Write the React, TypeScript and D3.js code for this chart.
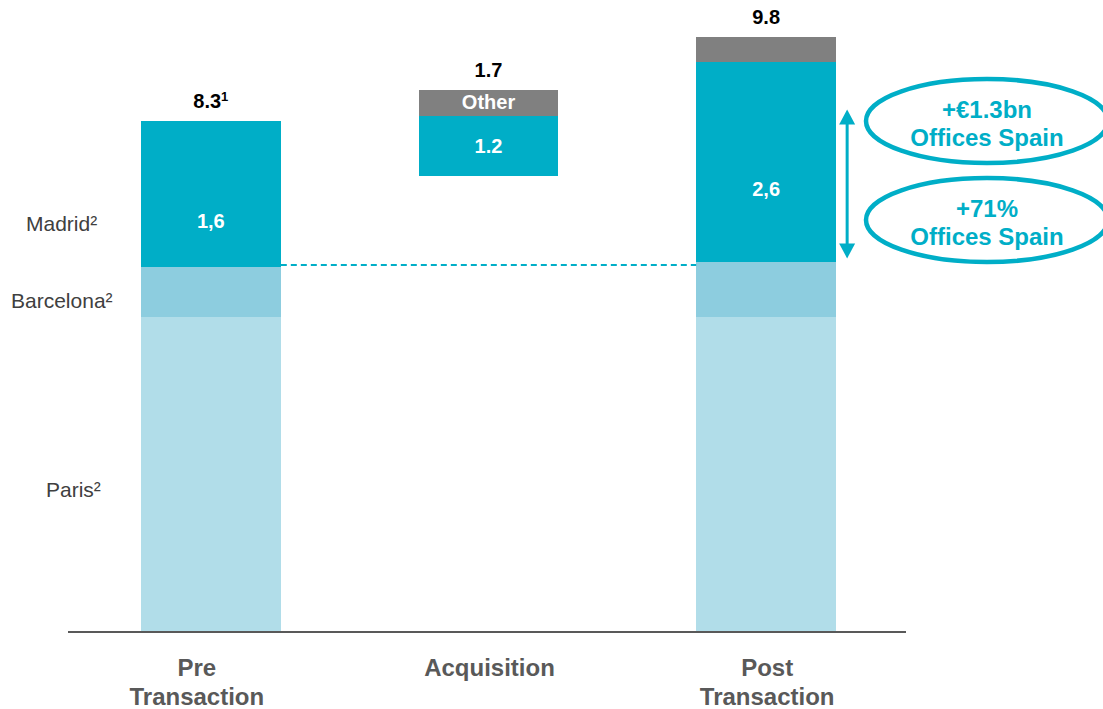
import React from "react";
import * as d3 from "d3";

// ---- data ----
const categories = ["Pre Transaction", "Acquisition", "Post Transaction"];
const categoryLines = [["Pre", "Transaction"], ["Acquisition"], ["Post", "Transaction"]];
const segmentKeys = ["base", "Paris", "Barcelona", "Madrid", "Spain other", "Other"];
// values per category (€bn); "base" is the invisible floor of the bridge bar
const baseValues = [0, 7.39, 0];
const parisValues = [5.1, 0, 5.1];
const barcelonaValues = [0.81, 0, 0.89];
const madridValues = [1.49, 0.97, 2.38];
const spainOtherValues = [0.89, 0, 0.875];
const otherValues = [0, 0.42, 0.4];
const totalLabels = ["8.3", "1.7", "9.8"];
const totalSup = ["1", "", ""];
const madridLabels = ["1,6", "1.2", "2,6"];
const otherLabels = ["", "Other", ""];
const rowLabels = ["Madrid²", "Barcelona²", "Paris²"];
const calloutTop = ["+€1.3bn", "Offices Spain"];
const calloutBottom = ["+71%", "Offices Spain"];

const COLORS: Record<string, string> = {
  base: "none",
  Paris: "#B1DDE9",
  Barcelona: "#8DCDDF",
  Madrid: "#00AEC7",
  "Spain other": "#00AEC7",
  Other: "#808080",
};
const TEAL = "#00AEC7";
const FONT = "'Liberation Sans', Arial, sans-serif";

export default function App() {
  const W = 1103;
  const H = 709;
  const baseY = 632;

  const rows = categories.map((c, i) => ({
    cat: c,
    base: baseValues[i],
    Paris: parisValues[i],
    Barcelona: barcelonaValues[i],
    Madrid: madridValues[i],
    "Spain other": spainOtherValues[i],
    Other: otherValues[i],
  }));
  const stacked = d3.stack<any>().keys(segmentKeys)(rows as any);

  const x = d3
    .scaleBand<string>()
    .domain(categories)
    .range([72, 905])
    .paddingInner(0.496)
    .paddingOuter(0.248);
  const y = d3.scaleLinear().domain([0, 10]).range([baseY, 15]);
  const bw = x.bandwidth();

  const series = (k: string) => stacked.find((s) => s.key === k)!;
  const madridS = series("Madrid");
  const otherS = series("Other");
  const topOf = (i: number) => d3.max(stacked, (s) => (s[i][1] - s[i][0] > 0 ? s[i][1] : 0))!;

  const preX = x(categories[0])!;
  const postX = x(categories[2])!;
  const dashY = (y(madridS[0][0]) + y(madridS[2][0])) / 2;
  const arrowX = postX + bw + 11;
  const arrowTop = y(madridS[2][1]) - 6;
  const arrowBot = y(madridS[2][0]) - 4;

  const ellCx = 987;
  const ellRx = 121;
  const ellRy = 42;
  const ell1Cy = 121;
  const ell2Cy = 220;
  const catOffset = [-14, 1, 1];

  return (
    <svg width={W} height={H} style={{ position: "absolute", left: 0, top: 0 }} fontFamily={FONT}>
      <rect width={W} height={H} fill="#fff" />
      {/* bars */}
      {stacked.map((s) =>
        s.key === "base"
          ? null
          : s.map((d, i) =>
              d[1] - d[0] > 0 ? (
                <rect
                  key={s.key + i}
                  x={x(categories[i])!}
                  y={y(d[1])}
                  width={bw}
                  height={y(d[0]) - y(d[1])}
                  fill={COLORS[s.key]}
                  shapeRendering="crispEdges"
                />
              ) : null
            )
      )}
      {/* dashed connector */}
      <line x1={preX + bw} x2={postX} y1={dashY} y2={dashY} stroke={TEAL} strokeWidth={2} strokeDasharray="6,4" />
      {/* axis */}
      <line x1={68} x2={906} y1={baseY} y2={baseY} stroke="#595959" strokeWidth={2.2} />
      {/* category labels */}
      {categoryLines.map((lines, i) =>
        lines.map((t, j) => (
          <text
            key={t + i}
            x={x(categories[i])! + bw / 2 + catOffset[i]}
            y={676 + j * 29}
            textAnchor="middle"
            fontSize={24}
            fontWeight="bold"
            fill="#595959"
          >
            {t}
          </text>
        ))
      )}
      {/* totals */}
      {totalLabels.map((t, i) => (
        <text
          key={"tot" + i}
          x={x(categories[i])! + bw / 2}
          y={y(topOf(i)) - 13}
          textAnchor="middle"
          fontSize={20}
          fontWeight="bold"
          fill="#000"
        >
          {t}
          {totalSup[i] ? (
            <tspan fontSize={13} dy={-7}>
              {totalSup[i]}
            </tspan>
          ) : null}
        </text>
      ))}
      {/* madrid values */}
      {madridLabels.map((t, i) => (
        <text
          key={"m" + i}
          x={x(categories[i])! + bw / 2}
          y={(y(madridS[i][0]) + y(madridS[i][1])) / 2 + 7}
          textAnchor="middle"
          fontSize={20}
          fontWeight="bold"
          fill="#fff"
        >
          {t}
        </text>
      ))}
      {otherLabels.map((t, i) =>
        t ? (
          <text
            key={"o" + i}
            x={x(categories[i])! + bw / 2}
            y={(y(otherS[i][0]) + y(otherS[i][1])) / 2 + 6}
            textAnchor="middle"
            fontSize={20}
            fontWeight="bold"
            fill="#fff"
          >
            {t}
          </text>
        ) : null
      )}
      {/* row labels */}
      <text x={26} y={231} fontSize={21} fill="#404040">{rowLabels[0]}</text>
      <text x={11} y={308} fontSize={21} fill="#404040">{rowLabels[1]}</text>
      <text x={46} y={497} fontSize={21} fill="#404040">{rowLabels[2]}</text>
      {/* double arrow */}
      <line x1={arrowX} x2={arrowX} y1={arrowTop + 12} y2={arrowBot - 12} stroke={TEAL} strokeWidth={3} />
      <path d={`M${arrowX},${arrowTop} L${arrowX - 8},${arrowTop + 15} L${arrowX + 8},${arrowTop + 15} Z`} fill={TEAL} />
      <path d={`M${arrowX},${arrowBot} L${arrowX - 8},${arrowBot - 15} L${arrowX + 8},${arrowBot - 15} Z`} fill={TEAL} />
      {/* callouts */}
      {[
        { cy: ell1Cy, lines: calloutTop },
        { cy: ell2Cy, lines: calloutBottom },
      ].map((c, k) => (
        <g key={"c" + k}>
          <ellipse cx={ellCx} cy={c.cy} rx={ellRx} ry={ellRy} fill="#fff" stroke={TEAL} strokeWidth={4.5} />
          {c.lines.map((t, j) => (
            <text
              key={t + j}
              x={ellCx}
              y={c.cy - 3 + j * 28}
              textAnchor="middle"
              fontSize={24}
              fontWeight="bold"
              fill={TEAL}
            >
              {t}
            </text>
          ))}
        </g>
      ))}
    </svg>
  );
}
